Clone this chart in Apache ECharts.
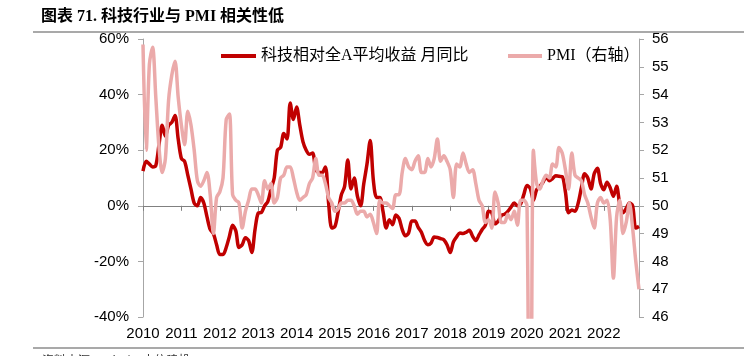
<!DOCTYPE html>
<html><head><meta charset="utf-8">
<script src="https://cdn.jsdelivr.net/npm/echarts@6/dist/echarts.min.js"></script>
<style>html,body{margin:0;padding:0;background:#fff}#c{width:744px;height:356px}</style>
</head><body><div id="c"></div>
<script>
const titleText = '图表 71. 科技行业与 PMI 相关性低';
const sourceText = '资料来源：Wind，中信建投';
const seriesNames = ['科技相对全A平均收益 月同比', 'PMI（右轴）'];
const leftTicks = [-40, 60, 20];
const rightTicks = [46, 56, 1];
const startYear = 2010, endYear = 2022;

// Tech relative return vs all-A, YoY (%), monthly Jan 2010 - Dec 2022
const techRel = [
 12.5,16,15,14,14.5,22,29,25,29,30,32.5,24,
 17,16,11,6,1,0,3,1,-4,-8.5,-10,-14,
 -17.5,-17.5,-15,-11,-7,-9,-15,-14,-11.5,-12.5,-16.8,-8.6,
 -2.6,-2.4,0,1.5,6,10,20,21,26,24,37,31,
 35.5,29,23,20,18.5,19,13,12,12,14,1,-8,
 -7.4,-2,4,7,16.5,6,10,3.5,0,8,15,23.5,
 9,3,3,-2,-8,-5,-6.8,-3.3,-4.5,-8.5,-10.8,-9.8,
 -5.5,-5.5,-7.8,-9.5,-12.5,-14,-13.4,-11.2,-11.4,-11.8,-12.2,-14,
 -16.8,-13,-11.2,-9.8,-10,-9.5,-8.8,-11,-12.5,-10.5,-8.5,-7,
 -2,-2.5,-6.5,-5.5,-3.5,-3,-2,-0.5,1,0,0.6,4,
 7.3,6.3,2,5.8,7,8.5,10.3,9,9.8,10.8,10.6,10.5,
 5,-2.5,-1.5,-2,1,6.5,11.5,10,6,11.5,13.5,8,
 5.8,8.5,6.5,3.4,7,0.5,-2.5,-1,1,0,-8,-7.4
];
// PMI, monthly Jan 2010 - Dec 2022
const pmi = [
 55.8,52.0,55.1,55.7,53.9,52.1,51.2,51.7,53.8,54.7,55.2,53.9,
 52.9,52.2,53.4,52.9,52.0,50.9,50.7,50.9,51.2,50.4,49.0,50.3,
 50.5,51.0,53.1,53.3,50.4,50.2,50.1,49.2,49.8,50.2,50.6,50.6,
 50.4,50.1,50.9,50.6,50.8,50.1,50.3,51.0,51.1,51.4,51.4,51.0,
 50.5,50.2,50.3,50.4,50.8,51.0,51.7,51.1,51.1,50.8,50.3,50.1,
 49.8,49.9,50.1,50.1,50.2,50.2,50.0,49.7,49.8,49.8,49.6,49.7,
 49.4,49.0,50.2,50.1,50.1,50.0,49.9,50.4,50.4,51.2,51.7,51.4,
 51.3,51.6,51.8,51.2,51.2,51.7,51.4,51.7,52.4,51.6,51.8,51.6,
 51.3,50.3,51.5,51.4,51.9,51.5,51.2,51.3,50.8,50.2,50.0,49.4,
 49.5,49.2,50.5,50.1,49.4,49.4,49.7,49.5,49.8,49.3,50.2,50.2,
 50.0,35.7,52.0,50.8,50.6,50.9,51.1,51.0,51.5,51.4,52.1,51.9,
 51.3,50.6,51.9,51.1,51.0,50.9,50.4,50.1,49.6,49.2,50.1,50.3,
 50.1,50.2,49.5,47.4,49.6,50.2,49.0,49.4,50.1,49.2,48.0,47.0
];

const months = [];
for (let y = startYear; y <= endYear; y++) for (let m = 1; m <= 12; m++) months.push(y + '-' + (m < 10 ? '0' + m : m));

const axisFont = { fontFamily: 'Liberation Sans Narrow, Liberation Sans, Arial', fontSize: 15, color: '#000' };
const axisLineGray = { color: '#A6A6A6', width: 1 };
const isJan = (i) => i % 12 === 0;

const chart = echarts.init(document.getElementById('c'), null, { renderer: 'canvas' });
chart.setOption({
  animation: false,
  backgroundColor: '#fff',
  title: {
    text: titleText, left: 36, top: 4,
    textStyle: { fontFamily: 'Liberation Serif, Noto Sans CJK SC', fontWeight: 'bold', fontSize: 16, color: '#000' }
  },
  graphic: [
    { type: 'line', shape: { x1: 33, y1: 32, x2: 744, y2: 32 }, style: { stroke: '#8C8C8C', lineWidth: 1.5 } },
    { type: 'line', shape: { x1: 33, y1: 348, x2: 744, y2: 348 }, style: { stroke: '#8C8C8C', lineWidth: 1.5 } },
    { type: 'text', left: 42, top: 354, style: { text: sourceText, fontSize: 12, fill: '#333', fontFamily: 'Noto Sans CJK SC' } }
  ],
  legend: [
    { data: [seriesNames[0]], left: 216, top: 43, icon: 'rect', itemWidth: 35, itemHeight: 4,
      textStyle: { fontFamily: 'Liberation Serif, Noto Sans CJK SC', fontSize: 16, color: '#000' } },
    { data: [seriesNames[1]], left: 503, top: 43, icon: 'rect', itemWidth: 34, itemHeight: 4,
      textStyle: { fontFamily: 'Liberation Serif, Noto Sans CJK SC', fontSize: 16, color: '#000' } }
  ],
  grid: { left: 143, right: 105, top: 39, bottom: 39, containLabel: false },
  xAxis: [
    { type: 'category', data: months, boundaryGap: false, position: 'bottom',
      axisLine: { show: false, onZero: false }, axisTick: { show: false },
      axisLabel: Object.assign({ interval: (i) => isJan(i), formatter: (v) => v.slice(0, 4), margin: 9 }, axisFont),
      splitLine: { show: false } },
    { type: 'category', data: months, boundaryGap: false, position: 'bottom',
      axisLine: { show: true, onZero: true, onZeroAxisIndex: 0, lineStyle: { color: '#808080', width: 1 } },
      axisTick: { show: true, interval: (i) => isJan(i), length: 5, lineStyle: { color: '#808080' } },
      axisLabel: { show: false }, splitLine: { show: false } }
  ],
  yAxis: [
    { type: 'value', min: leftTicks[0], max: leftTicks[1], interval: leftTicks[2], position: 'left',
      axisLine: { show: true, lineStyle: axisLineGray }, axisTick: { show: true, length: 5, lineStyle: axisLineGray },
      axisLabel: Object.assign({ formatter: (v) => v + '%', margin: 14 }, axisFont), splitLine: { show: false } },
    { type: 'value', min: rightTicks[0], max: rightTicks[1], interval: rightTicks[2], position: 'right',
      axisLine: { show: true, lineStyle: axisLineGray }, axisTick: { show: true, length: 5, lineStyle: axisLineGray },
      axisLabel: Object.assign({ margin: 13 }, axisFont), splitLine: { show: false } }
  ],
  series: [
    { name: seriesNames[0], type: 'line', data: techRel, xAxisIndex: 0, yAxisIndex: 0, smooth: 0.3,
      showSymbol: false, symbol: 'none', color: '#C00000', lineStyle: { color: '#C00000', width: 3.5 }, z: 2 },
    { name: seriesNames[1], type: 'line', data: pmi, xAxisIndex: 0, yAxisIndex: 1, smooth: 0.3,
      showSymbol: false, symbol: 'none', color: '#EBAAAA', lineStyle: { color: '#EBAAAA', width: 3.5 }, z: 3, clip: true }
  ]
});
</script></body></html>
